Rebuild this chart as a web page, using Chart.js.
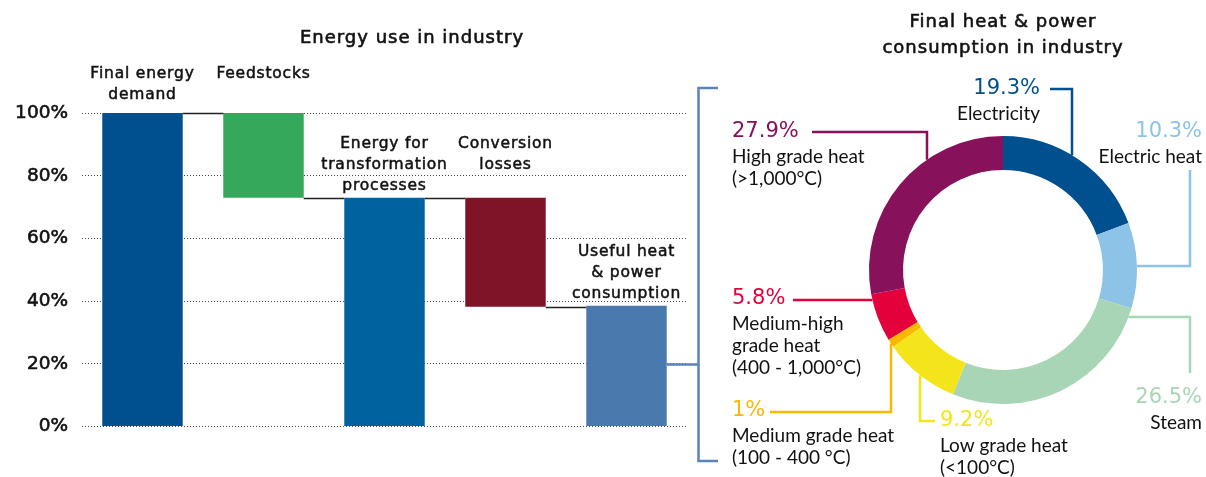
<!DOCTYPE html>
<html>
<head>
<meta charset="utf-8">
<script src="https://cdn.jsdelivr.net/npm/chart.js@4.4.1/dist/chart.umd.min.js"></script>
<style>
    html, body { margin: 0; padding: 0; background: #fff; }
    #wrap { position: relative; width: 1206px; height: 477px; }
    #wrap canvas { position: absolute; left: 0; top: 0; }
</style>
</head>
<body>
<div id="wrap">
    <canvas id="flowChart" width="1206" height="477"></canvas>
    <canvas id="mixChart" width="1206" height="477"></canvas>
</div>
<script>
// Energy use in industry, % of final energy demand (waterfall: low/high of each bar)
const steps = ['Final energy demand', 'Feedstocks', 'Energy for transformation processes', 'Conversion losses', 'Useful heat & power consumption'];
const stepLines = [['Final energy', 'demand'], ['Feedstocks'], ['Energy for', 'transformation', 'processes'], ['Conversion', 'losses'], ['Useful heat', '& power', 'consumption']];
const stepLow = [0, 73, 0, 38.2, 0];
const stepHigh = [100, 100, 73, 73, 38.5];
const yTicks = [0, 20, 40, 60, 80, 100];

// Final heat & power consumption in industry, %
const uses = ['Electricity', 'Electric heat', 'Steam', 'Low grade heat', 'Medium grade heat', 'Medium-high grade heat', 'High grade heat'];
const useLines = [['Electricity'], ['Electric heat'], ['Steam'], ['Low grade heat', '(<100°C)'], ['Medium grade heat', '(100 - 400 °C)'], ['Medium-high', 'grade heat', '(400 - 1,000°C)'], ['High grade heat', '(>1,000°C)']];
const useShares = [19.3, 10.3, 26.5, 9.2, 1, 5.8, 27.9];

const barColors = ['#00508f', '#36a85b', '#0063a0', '#7f1428', '#4a7aad'];
const useColors = ['#00508f', '#8cc3e6', '#a8d5b5', '#f3e51a', '#fbb800', '#e4003a', '#87115a'];
const bracketColor = '#5a84b9';
const inkColor = '#111';
const geoFont = '"DejaVu Sans"';
const labelFont = 'Lato';

// first label line sits this far above the bar top
const labelRise = [-39, -39, -54, -54, -54];

// where each doughnut callout sits and how its leader line runs to the ring
const callouts = [
    { align: 'right', x: 1040, y: 89, path: [[1050, 89], [1072, 89]], hit: { x: 1072, side: -1 } },
    { align: 'right', x: 1202, y: 132, path: [[1190, 170], [1190, 266]], hit: { y: 266, side: 1 } },
    { align: 'right', x: 1202, y: 398, path: [[1190, 373], [1190, 317]], hit: { y: 317, side: 1 } },
    { align: 'left', x: 940, y: 421, path: [[935, 421], [920, 421]], hit: { x: 920, side: 1 } },
    { align: 'left', x: 732, y: 411, path: [[770, 412], [891, 412]], hit: { x: 891, side: 1 } },
    { align: 'left', x: 732, y: 299, path: [[793, 300]], hit: { y: 300, side: -1 } },
    { align: 'left', x: 732, y: 132, path: [[812, 132], [927, 132]], hit: { x: 927, side: -1 } }
];

function spacing(ctx, px) {
    if ('letterSpacing' in ctx) ctx.letterSpacing = px + 'px';
}

// slightly heavier text: thin stroke under the fill
function heavyText(ctx, text, x, y, weight) {
    ctx.lineWidth = weight;
    ctx.strokeStyle = ctx.fillStyle;
    ctx.strokeText(text, x, y);
    ctx.fillText(text, x, y);
}

const flowDecor = {
    id: 'flowDecor',
    afterDatasetsDraw(chart) {
        const { ctx, scales: { y } } = chart;
        const bars = chart.getDatasetMeta(0).data;
        ctx.save();

        // step connectors
        ctx.strokeStyle = '#222';
        ctx.lineWidth = 1.5;
        for (let i = 0; i < bars.length - 1; i++) {
            const level = stepLow[i] === 0 ? stepHigh[i] : stepLow[i];
            const yy = Math.round(y.getPixelForValue(level)) + 0.5;
            ctx.beginPath();
            ctx.moveTo(bars[i].x + bars[i].width / 2, yy);
            ctx.lineTo(bars[i + 1].x - bars[i + 1].width / 2, yy);
            ctx.stroke();
        }

        // bar labels
        ctx.fillStyle = inkColor;
        ctx.textAlign = 'center';
        ctx.textBaseline = 'middle';
        ctx.font = '15.5px ' + geoFont;
        spacing(ctx, 0.8);
        stepLines.forEach((lines, i) => {
            const top = y.getPixelForValue(stepHigh[i]);
            lines.forEach((t, k) => heavyText(ctx, t, bars[i].x, top + labelRise[i] + k * 21, 0.5));
        });

        // title
        ctx.font = '18px ' + geoFont;
        spacing(ctx, 1);
        heavyText(ctx, 'Energy use in industry', 412, 38, 0.6);
        spacing(ctx, 0);

        // bracket linking the last bar to the doughnut
        const last = bars[bars.length - 1];
        const midY = (last.y + last.base) / 2 - 1.5;
        ctx.strokeStyle = bracketColor;
        ctx.lineWidth = 2.5;
        ctx.beginPath();
        ctx.moveTo(718, 88);
        ctx.lineTo(698.5, 88);
        ctx.lineTo(698.5, 461);
        ctx.lineTo(718, 461);
        ctx.moveTo(last.x + last.width / 2, midY);
        ctx.lineTo(698.5, midY);
        ctx.stroke();
        ctx.restore();
    }
};

const mixDecor = {
    id: 'mixDecor',
    afterDatasetsDraw(chart) {
        const { ctx } = chart;
        const arcs = chart.getDatasetMeta(0).data;
        const cx = arcs[0].x;
        const cy = arcs[0].y;
        const r = arcs[0].outerRadius;
        ctx.save();

        ctx.fillStyle = inkColor;
        ctx.textAlign = 'center';
        ctx.textBaseline = 'middle';
        ctx.font = '18px ' + geoFont;
        spacing(ctx, 1);
        heavyText(ctx, 'Final heat & power', 1003, 22, 0.6);
        heavyText(ctx, 'consumption in industry', 1003, 48, 0.6);
        spacing(ctx, 0);

        callouts.forEach((c, i) => {
            // leader line
            let end;
            if (c.hit.x !== undefined) {
                const dx = c.hit.x - cx;
                end = [c.hit.x, cy + c.hit.side * Math.sqrt(r * r - dx * dx)];
            } else {
                const dy = c.hit.y - cy;
                end = [cx + c.hit.side * Math.sqrt(r * r - dy * dy), c.hit.y];
            }
            ctx.strokeStyle = useColors[i];
            ctx.lineWidth = 2.5;
            ctx.beginPath();
            c.path.forEach((p, k) => (k ? ctx.lineTo(p[0], p[1]) : ctx.moveTo(p[0], p[1])));
            ctx.lineTo(end[0], end[1]);
            ctx.stroke();

            // percentage + name
            ctx.textAlign = c.align;
            ctx.fillStyle = useColors[i];
            ctx.font = '21px ' + geoFont;
            ctx.fillText(useShares[i] + '%', c.x, c.y);
            ctx.fillStyle = inkColor;
            ctx.font = '19px ' + labelFont;
            useLines[i].forEach((t, k) => ctx.fillText(t, c.x, c.y + 25 + k * 22));
        });
        ctx.restore();
    }
};

new Chart(document.getElementById('flowChart'), {
    type: 'bar',
    data: {
        labels: steps,
        datasets: [{
            data: stepLow.map((lo, i) => [lo, stepHigh[i]]),
            backgroundColor: barColors,
            borderWidth: 0,
            barPercentage: 0.665,
            categoryPercentage: 1
        }]
    },
    options: {
        responsive: false,
        animation: false,
        events: [],
        layout: { padding: { left: 0, right: 519, top: 113, bottom: 50.5 } },
        plugins: { legend: { display: false }, tooltip: { enabled: false } },
        scales: {
            x: { display: false },
            y: {
                min: 0,
                max: 100,
                afterFit: (scale) => { scale.width = 82; },
                afterBuildTicks: (scale) => { scale.ticks = yTicks.map(v => ({ value: v })); },
                ticks: {
                    callback: (v) => v + '%',
                    color: inkColor,
                    textStrokeColor: inkColor,
                    textStrokeWidth: 0.6,
                    padding: 14,
                    font: { family: 'DejaVu Sans', size: 18.5 }
                },
                grid: { color: '#444', lineWidth: 1, drawTicks: false },
                border: { display: false, dash: [1, 2] }
            }
        }
    },
    plugins: [flowDecor]
});

new Chart(document.getElementById('mixChart'), {
    type: 'doughnut',
    data: {
        labels: uses,
        datasets: [{
            data: useShares,
            backgroundColor: useColors,
            borderWidth: 0,
            hoverOffset: 0
        }]
    },
    options: {
        responsive: false,
        animation: false,
        events: [],
        cutout: '74.6%',
        layout: { padding: { left: 869, right: 69, top: 136, bottom: 73 } },
        plugins: { legend: { display: false }, tooltip: { enabled: false } }
    },
    plugins: [mixDecor]
});
</script>
</body>
</html>
